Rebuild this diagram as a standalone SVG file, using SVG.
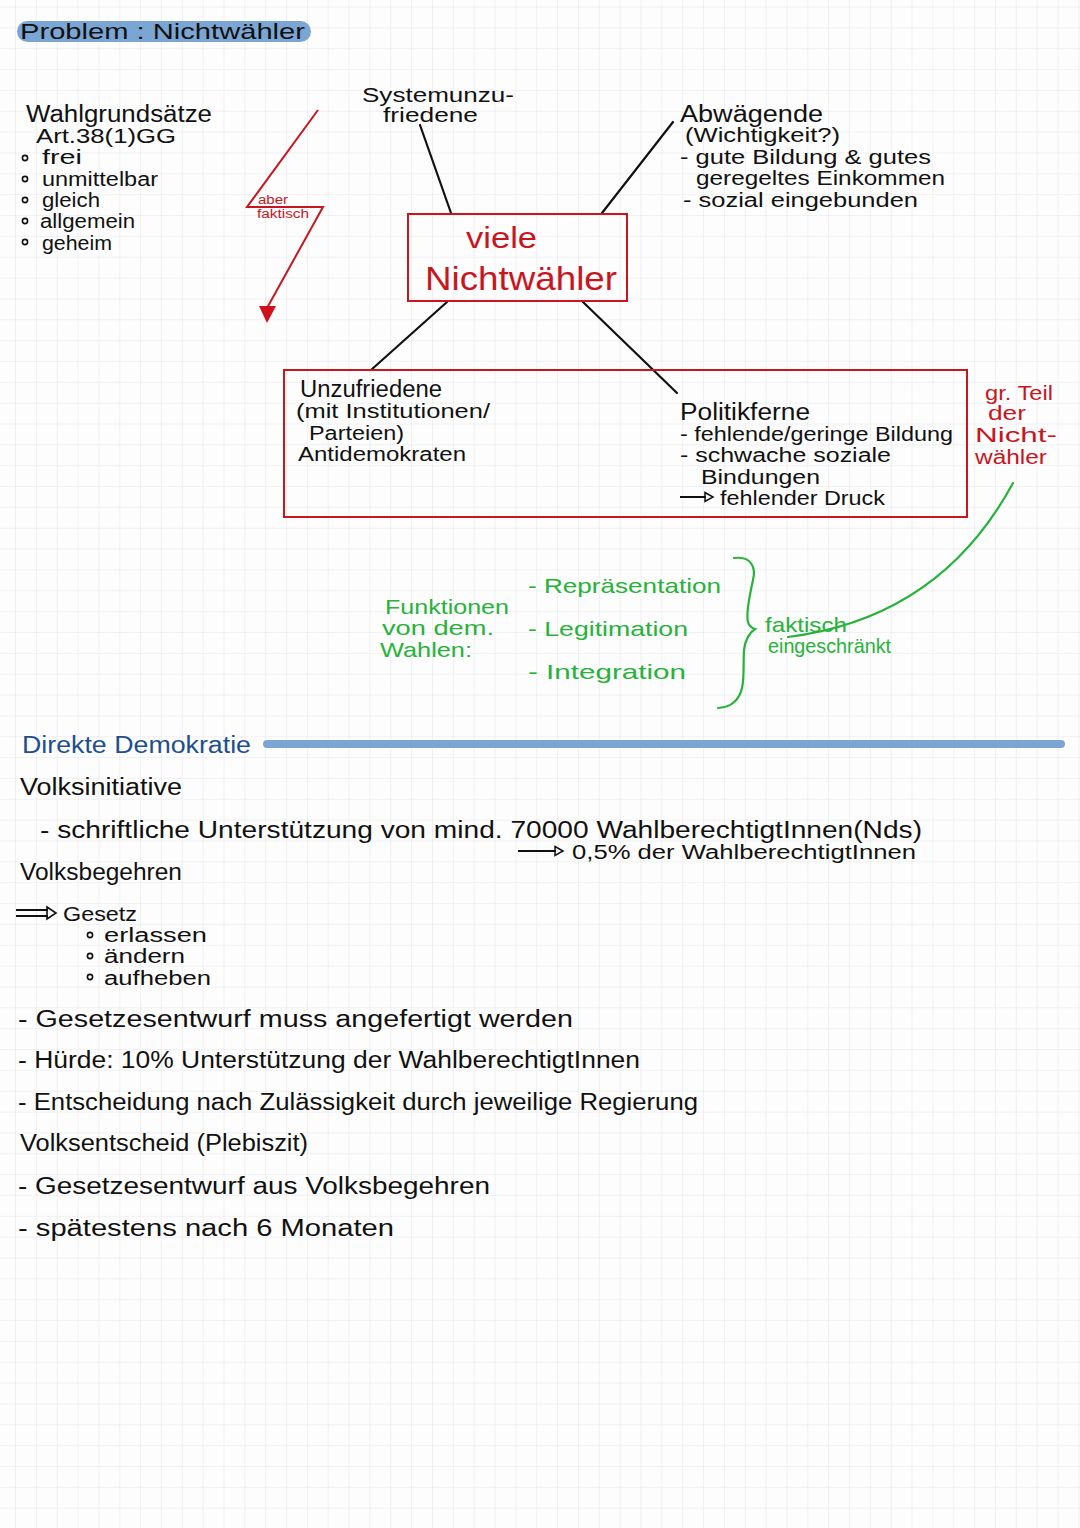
<svg xmlns="http://www.w3.org/2000/svg" width="1080" height="1528" viewBox="0 0 1080 1528">
<defs>
<pattern id="grid" x="15" y="6.5" width="20.85" height="20.85" patternUnits="userSpaceOnUse">
<path d="M0,0 H20.85 M0,0 V20.85" fill="none" stroke="#e6e6ea" stroke-width="1.2"/>
</pattern>
<style>
text{font-family:"Liberation Sans","DejaVu Sans",Arial,sans-serif;}
.k{fill:#111;font-size:20px;}
.h{fill:#111;font-size:23px;}
.r{fill:#c8161e;}
.g{fill:#27b23a;font-size:21px;}
.ln{stroke:#111;stroke-width:2.2;fill:none;stroke-linecap:round;}
.rl{stroke:#c8161e;stroke-width:2;fill:none;}
.gl{stroke:#27b23a;stroke-width:2.2;fill:none;stroke-linecap:round;}
</style>
</defs>
<rect width="1080" height="1528" fill="#fdfdfd"/>
<rect width="1080" height="1528" fill="url(#grid)"/>

<g id="title">
<rect x="17" y="21" width="294" height="21" rx="10.5" fill="#7ba6d4"/>
<text x="20" y="39" font-size="22" fill="#111" textLength="285" lengthAdjust="spacingAndGlyphs">Problem : Nichtwähler</text>
</g>

<g id="wahlgrundsaetze">
<text class="h" x="26" y="122" textLength="186" lengthAdjust="spacingAndGlyphs">Wahlgrundsätze</text>
<text class="k" x="36" y="143" textLength="140" lengthAdjust="spacingAndGlyphs">Art.38(1)GG</text>
<g fill="none" stroke="#111" stroke-width="1.6">
<circle cx="25" cy="158" r="2.6"/><circle cx="25" cy="179" r="2.6"/><circle cx="25" cy="200" r="2.6"/><circle cx="25" cy="221" r="2.6"/><circle cx="25" cy="242" r="2.6"/>
</g>
<text class="k" x="42" y="164" textLength="40" lengthAdjust="spacingAndGlyphs">frei</text>
<text class="k" x="42" y="186" textLength="116" lengthAdjust="spacingAndGlyphs">unmittelbar</text>
<text class="k" x="42" y="207" textLength="58" lengthAdjust="spacingAndGlyphs">gleich</text>
<text class="k" x="40" y="228" textLength="95" lengthAdjust="spacingAndGlyphs">allgemein</text>
<text class="k" x="42" y="250" textLength="70" lengthAdjust="spacingAndGlyphs">geheim</text>
</g>

<g id="lightning">
<polyline class="rl" points="318,110 247,207 323,207 267,308"/>
<polygon points="259,306 276,306 267,323" fill="#d0101a"/>
<text class="r" x="258" y="204" font-size="12" textLength="30" lengthAdjust="spacingAndGlyphs">aber</text>
<text class="r" x="257" y="218" font-size="12" textLength="52" lengthAdjust="spacingAndGlyphs">faktisch</text>
</g>

<g id="connectors">
<line class="ln" x1="420" y1="125" x2="451" y2="213"/>
<line class="ln" x1="602" y1="213" x2="673" y2="122"/>
<line class="ln" x1="447" y1="302" x2="371" y2="370"/>
<line class="ln" x1="583" y1="302" x2="677" y2="393"/>
<path class="gl" d="M1013,483 Q940,618 788,637"/>
</g>

<g id="systemunzufriedene">
<text class="k" x="362" y="102" textLength="152" lengthAdjust="spacingAndGlyphs">Systemunzu-</text>
<text class="k" x="383" y="122" textLength="95" lengthAdjust="spacingAndGlyphs">friedene</text>
</g>

<g id="viele-nichtwaehler">
<rect x="408" y="214" width="219" height="87" fill="none" stroke="#c8161e" stroke-width="2"/>
<text class="r" x="466" y="248" font-size="30" textLength="71" lengthAdjust="spacingAndGlyphs">viele</text>
<text class="r" x="425" y="290" font-size="34" textLength="192" lengthAdjust="spacingAndGlyphs">Nichtwähler</text>
</g>

<g id="abwaegende">
<text class="h" x="680" y="122" font-size="24" textLength="143" lengthAdjust="spacingAndGlyphs">Abwägende</text>
<text class="k" x="685" y="142" font-size="19" textLength="155" lengthAdjust="spacingAndGlyphs">(Wichtigkeit?)</text>
<text class="k" x="680" y="164" textLength="251" lengthAdjust="spacingAndGlyphs">- gute Bildung &amp; gutes</text>
<text class="k" x="696" y="185" textLength="249" lengthAdjust="spacingAndGlyphs">geregeltes Einkommen</text>
<text class="k" x="683" y="207" textLength="235" lengthAdjust="spacingAndGlyphs">-  sozial eingebunden</text>
</g>

<g id="untere-gruppe">
<rect x="284" y="370" width="683" height="147" fill="none" stroke="#c8161e" stroke-width="2"/>
</g>

<g id="unzufriedene">
<text class="h" x="300" y="397" font-size="22" textLength="142" lengthAdjust="spacingAndGlyphs">Unzufriedene</text>
<text class="k" x="296" y="418" textLength="194" lengthAdjust="spacingAndGlyphs">(mit Institutionen/</text>
<text class="k" x="309" y="440" textLength="95" lengthAdjust="spacingAndGlyphs">Parteien)</text>
<text class="k" x="298" y="461" textLength="168" lengthAdjust="spacingAndGlyphs">Antidemokraten</text>
</g>

<g id="politikferne">
<text class="h" x="680" y="420" font-size="22" textLength="130" lengthAdjust="spacingAndGlyphs">Politikferne</text>
<text class="k" x="680" y="441" textLength="273" lengthAdjust="spacingAndGlyphs">- fehlende/geringe Bildung</text>
<text class="k" x="680" y="462" textLength="211" lengthAdjust="spacingAndGlyphs">-  schwache soziale</text>
<text class="k" x="701" y="484" textLength="119" lengthAdjust="spacingAndGlyphs">Bindungen</text>
<line x1="680" y1="497" x2="706" y2="497" stroke="#111" stroke-width="2"/>
<polygon points="705,492.5 713,497 705,501.5" fill="none" stroke="#111" stroke-width="1.5"/>
<text class="k" x="720" y="505" textLength="165" lengthAdjust="spacingAndGlyphs">fehlender Druck</text>
</g>

<g id="gr-teil">
<text class="r" x="985" y="400" font-size="20" textLength="68" lengthAdjust="spacingAndGlyphs">gr. Teil</text>
<text class="r" x="988" y="420" font-size="20" textLength="38" lengthAdjust="spacingAndGlyphs">der</text>
<text class="r" x="975" y="442" font-size="20" textLength="82" lengthAdjust="spacingAndGlyphs">Nicht-</text>
<text class="r" x="975" y="464" font-size="20" textLength="72" lengthAdjust="spacingAndGlyphs">wähler</text>
</g>

<g id="funktionen">
<text class="g" x="385" y="614" textLength="124" lengthAdjust="spacingAndGlyphs">Funktionen</text>
<text class="g" x="382" y="635" textLength="112" lengthAdjust="spacingAndGlyphs">von dem.</text>
<text class="g" x="380" y="657" textLength="92" lengthAdjust="spacingAndGlyphs">Wahlen:</text>
<text class="g" x="528" y="593" font-size="23" textLength="193" lengthAdjust="spacingAndGlyphs">-  Repräsentation</text>
<text class="g" x="528" y="636" font-size="23" textLength="160" lengthAdjust="spacingAndGlyphs">-  Legitimation</text>
<text class="g" x="528" y="679" font-size="23" textLength="158" lengthAdjust="spacingAndGlyphs">-  Integration</text>
<path class="gl" d="M734,558 C752,556 756,568 753,580 C749,598 746,615 748,622 C749,626 752,628 755,629 C750,632 745,640 744,650 C743,670 745,685 739,696 C734,705 725,708 718,708"/>
<text class="g" x="765" y="632" font-size="19" textLength="82" lengthAdjust="spacingAndGlyphs">faktisch</text>
<text class="g" x="768" y="653" font-size="19" textLength="123" lengthAdjust="spacingAndGlyphs">eingeschränkt</text>
</g>

<g id="direkte-demokratie">
<text x="22" y="753" font-size="23" fill="#1d4f8e" textLength="229" lengthAdjust="spacingAndGlyphs">Direkte Demokratie</text>
<line x1="267" y1="744" x2="1061" y2="744" stroke="#7ba6d4" stroke-width="8" stroke-linecap="round"/>
</g>

<g id="volksinitiative">
<text class="h" x="20" y="795" textLength="162" lengthAdjust="spacingAndGlyphs">Volksinitiative</text>
<text class="h" x="40" y="838" textLength="882" lengthAdjust="spacingAndGlyphs">- schriftliche Unterstützung von mind. 70000 WahlberechtigtInnen(Nds)</text>
<line x1="518" y1="851" x2="556" y2="851" stroke="#111" stroke-width="2"/>
<polygon points="555,846.5 563,851 555,855.5" fill="none" stroke="#111" stroke-width="1.5"/>
<text class="k" x="572" y="859" textLength="344" lengthAdjust="spacingAndGlyphs">0,5% der WahlberechtigtInnen</text>
</g>

<g id="volksbegehren">
<text class="h" x="20" y="880" textLength="162" lengthAdjust="spacingAndGlyphs">Volksbegehren</text>
<line x1="16" y1="910" x2="48" y2="910" stroke="#111" stroke-width="2"/>
<line x1="16" y1="916" x2="48" y2="916" stroke="#111" stroke-width="2"/>
<polygon points="47,907 56,913 47,919" fill="none" stroke="#111" stroke-width="1.6"/>
<text class="k" x="63" y="921" textLength="74" lengthAdjust="spacingAndGlyphs">Gesetz</text>
<g fill="none" stroke="#111" stroke-width="1.6">
<circle cx="90" cy="935" r="2.6"/><circle cx="90" cy="956" r="2.6"/><circle cx="90" cy="977" r="2.6"/>
</g>
<text class="k" x="104" y="942" textLength="103" lengthAdjust="spacingAndGlyphs">erlassen</text>
<text class="k" x="104" y="963" textLength="81" lengthAdjust="spacingAndGlyphs">ändern</text>
<text class="k" x="104" y="985" textLength="107" lengthAdjust="spacingAndGlyphs">aufheben</text>
<text class="h" x="18" y="1027" textLength="555" lengthAdjust="spacingAndGlyphs">- Gesetzesentwurf muss angefertigt werden</text>
<text class="h" x="18" y="1068" textLength="622" lengthAdjust="spacingAndGlyphs">- Hürde: 10% Unterstützung der WahlberechtigtInnen</text>
<text class="h" x="18" y="1110" textLength="680" lengthAdjust="spacingAndGlyphs">- Entscheidung nach Zulässigkeit durch jeweilige Regierung</text>
</g>

<g id="volksentscheid">
<text class="h" x="20" y="1151" textLength="288" lengthAdjust="spacingAndGlyphs">Volksentscheid (Plebiszit)</text>
<text class="h" x="18" y="1194" textLength="472" lengthAdjust="spacingAndGlyphs">- Gesetzesentwurf aus Volksbegehren</text>
<text class="h" x="18" y="1236" textLength="376" lengthAdjust="spacingAndGlyphs">- spätestens nach 6 Monaten</text>
</g>
</svg>
